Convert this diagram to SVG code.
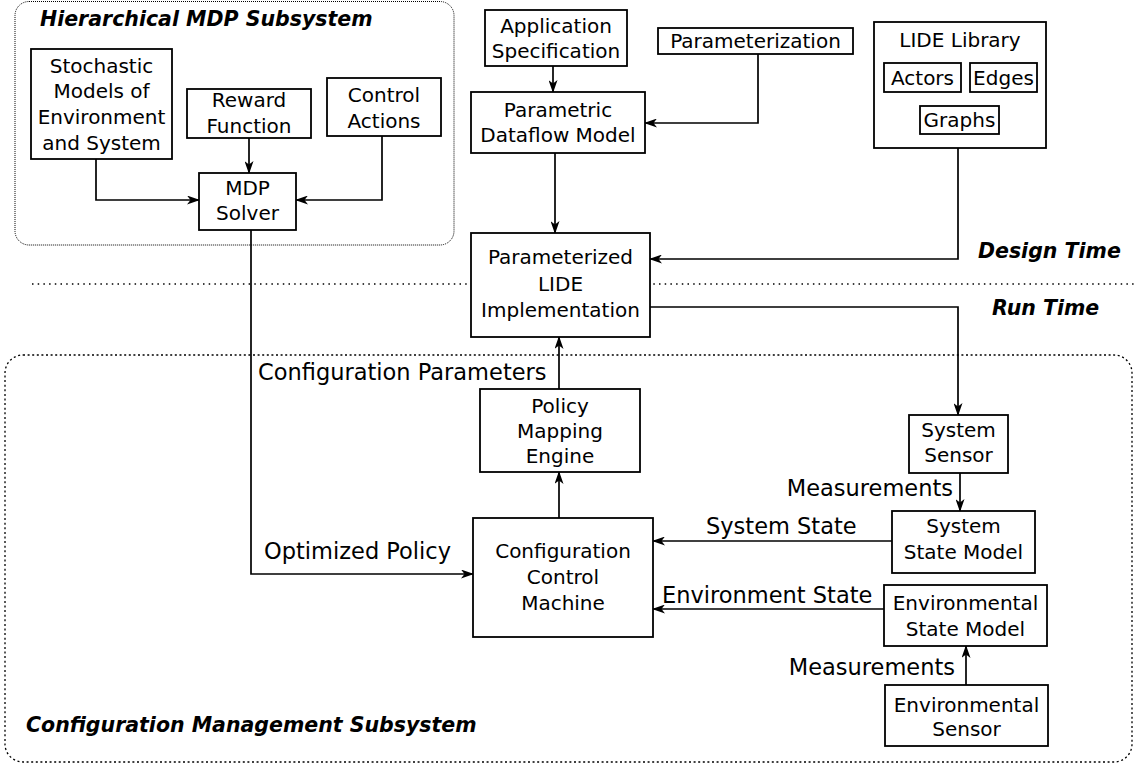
<svg xmlns="http://www.w3.org/2000/svg" width="1135" height="765" viewBox="0 0 1135 765">
<defs>
<style>
text{font-family:"DejaVu Sans","Liberation Sans",sans-serif;fill:#000}
.n{font-size:20px;text-anchor:middle}
.lbl{font-size:22.5px}
.ttl{font-size:20.5px;font-weight:bold;font-style:italic}
.box{fill:#fff;stroke:#000;stroke-width:1.8}
.edge{fill:none;stroke:#000;stroke-width:1.7;marker-end:url(#arr)}
.grp1{fill:none;stroke:#000;stroke-width:1;stroke-dasharray:1 1}
.grp2{fill:none;stroke:#000;stroke-width:1.3;stroke-dasharray:2 2.6}
.sep{fill:none;stroke:#000;stroke-width:1.4;stroke-dasharray:1.5 4.2}
</style>
<marker id="arr" viewBox="0 0 13 9" refX="12" refY="4.5" markerWidth="13" markerHeight="9" markerUnits="userSpaceOnUse" orient="auto">
<path d="M0,0 L13,4.5 L0,9 L3.5,4.5 z" fill="#000"/>
</marker>
</defs>
<rect width="1135" height="765" fill="#fff"/>

<g id="hierarchical-mdp-subsystem">
<rect class="grp1" x="15" y="1.5" width="439" height="243.5" rx="14"/>
<text class="ttl" x="40" y="26">Hierarchical MDP Subsystem</text>
</g>
<g id="configuration-management-subsystem">
<rect class="grp2" x="5" y="355" width="1127" height="407" rx="18"/>
<text class="ttl" x="26" y="732">Configuration Management Subsystem</text>
</g>
<g id="time-separator">
<line class="sep" x1="32" y1="284" x2="1135" y2="284"/>
<text class="ttl" x="978" y="258">Design Time</text>
<text class="ttl" x="992" y="315">Run Time</text>
</g>

<g id="connectors">
<polyline class="edge" points="96,159 96,200 199,200"/>
<polyline class="edge" points="249,138 249,173"/>
<polyline class="edge" points="382,136 382,200 296,200"/>
<polyline class="edge" points="251,230 251,574 473,574"/>
<polyline class="edge" points="553,66 553,92"/>
<polyline class="edge" points="758,54 758,123 645,123"/>
<polyline class="edge" points="555,153 555,233"/>
<polyline class="edge" points="958,148 958,259 650,259"/>
<polyline class="edge" points="650,307 958,307 958,415"/>
<polyline class="edge" points="559,389 559,337"/>
<polyline class="edge" points="559,518 559,472"/>
<polyline class="edge" points="960,473 960,511"/>
<polyline class="edge" points="892,541 653,541"/>
<polyline class="edge" points="884,609 653,609"/>
<polyline class="edge" points="966,685 966,646"/>
<text class="lbl" x="258" y="380">Configuration Parameters</text>
<text class="lbl" x="264" y="559">Optimized Policy</text>
<text class="lbl" x="706" y="534">System State</text>
<text class="lbl" x="662" y="603">Environment State</text>
<text class="lbl" x="953" y="496" text-anchor="end">Measurements</text>
<text class="lbl" x="955" y="675" text-anchor="end">Measurements</text>
</g>

<g id="stochastic-models">
<rect class="box" x="31" y="49" width="141" height="110"/>
<text class="n" x="101.5" y="73">Stochastic</text>
<text class="n" x="101.5" y="98">Models of</text>
<text class="n" x="101.5" y="124">Environment</text>
<text class="n" x="101.5" y="150">and System</text>
</g>
<g id="reward-function">
<rect class="box" x="187" y="89" width="124" height="49"/>
<text class="n" x="249" y="107">Reward</text>
<text class="n" x="249" y="133">Function</text>
</g>
<g id="control-actions">
<rect class="box" x="327" y="78" width="114" height="58"/>
<text class="n" x="384" y="102">Control</text>
<text class="n" x="384" y="128">Actions</text>
</g>
<g id="mdp-solver">
<rect class="box" x="199" y="173" width="97" height="57"/>
<text class="n" x="247.5" y="195">MDP</text>
<text class="n" x="247.5" y="220">Solver</text>
</g>
<g id="application-specification">
<rect class="box" x="485" y="10" width="142" height="56"/>
<text class="n" x="556" y="33">Application</text>
<text class="n" x="556" y="58">Specification</text>
</g>
<g id="parameterization">
<rect class="box" x="658" y="28" width="195" height="26"/>
<text class="n" x="755.5" y="48">Parameterization</text>
</g>
<g id="parametric-dataflow-model">
<rect class="box" x="471" y="92" width="174" height="61"/>
<text class="n" x="558" y="117">Parametric</text>
<text class="n" x="558" y="142">Dataflow Model</text>
</g>
<g id="lide-library">
<rect class="box" x="874" y="22" width="172" height="126"/>
<text class="n" x="960" y="47">LIDE Library</text>
<rect class="box" x="884" y="63" width="77" height="29"/>
<text class="n" x="922.5" y="85">Actors</text>
<rect class="box" x="970" y="63" width="67" height="29"/>
<text class="n" x="1003.5" y="85">Edges</text>
<rect class="box" x="920" y="106" width="79" height="28"/>
<text class="n" x="959.5" y="127">Graphs</text>
</g>
<g id="parameterized-lide-implementation">
<rect class="box" x="471" y="233" width="179" height="104"/>
<text class="n" x="560.5" y="264">Parameterized</text>
<text class="n" x="560.5" y="291">LIDE</text>
<text class="n" x="560.5" y="317">Implementation</text>
</g>
<g id="policy-mapping-engine">
<rect class="box" x="480" y="389" width="160" height="83"/>
<text class="n" x="560" y="413">Policy</text>
<text class="n" x="560" y="438">Mapping</text>
<text class="n" x="560" y="463">Engine</text>
</g>
<g id="configuration-control-machine">
<rect class="box" x="473" y="518" width="180" height="119"/>
<text class="n" x="563" y="558">Configuration</text>
<text class="n" x="563" y="584">Control</text>
<text class="n" x="563" y="610">Machine</text>
</g>
<g id="system-sensor">
<rect class="box" x="909" y="415" width="99" height="58"/>
<text class="n" x="958.5" y="437">System</text>
<text class="n" x="958.5" y="462">Sensor</text>
</g>
<g id="system-state-model">
<rect class="box" x="892" y="511" width="143" height="62"/>
<text class="n" x="963.5" y="533">System</text>
<text class="n" x="963.5" y="559">State Model</text>
</g>
<g id="environmental-state-model">
<rect class="box" x="884" y="585" width="163" height="61"/>
<text class="n" x="965.5" y="610">Environmental</text>
<text class="n" x="965.5" y="636">State Model</text>
</g>
<g id="environmental-sensor">
<rect class="box" x="885" y="685" width="163" height="61"/>
<text class="n" x="966.5" y="712">Environmental</text>
<text class="n" x="966.5" y="736">Sensor</text>
</g>
</svg>
